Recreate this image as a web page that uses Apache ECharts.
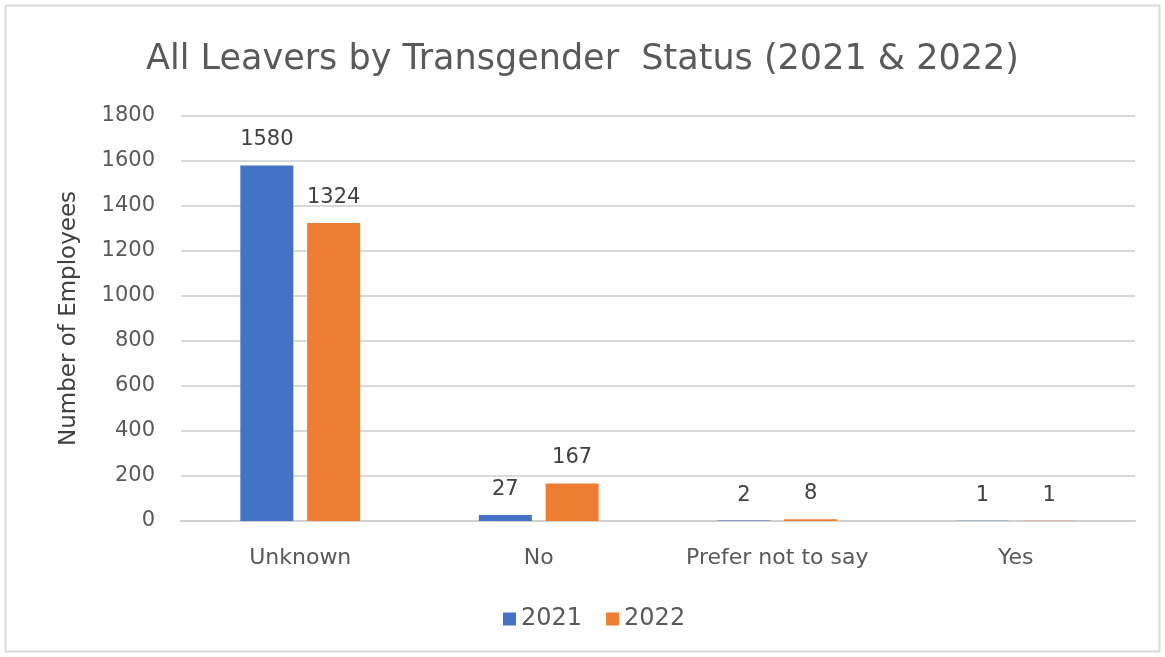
<!DOCTYPE html>
<html><head><meta charset="utf-8">
<script src="https://cdn.jsdelivr.net/npm/echarts@6/dist/echarts.min.js"></script>
<style>html,body{margin:0;padding:0;background:#fff}#c{width:1165px;height:657px}</style>
</head><body><div id="c"></div>
<script>
const categories = ['Unknown', 'No', 'Prefer not to say', 'Yes'];
const seriesNames = ['2021', '2022'];
const values2021 = [1580, 27, 2, 1];
const values2022 = [1324, 167, 8, 1];
const yTicks = [0, 200, 400, 600, 800, 1000, 1200, 1400, 1600, 1800];

const FONT = '"DejaVu Sans", "Open Sans", sans-serif';
const chart = echarts.init(document.getElementById('c'));
const labelStyle = {show: true, position: 'top', distance: 15, fontSize: 21, color: '#404040', fontFamily: FONT};
chart.setOption({
  animation: false,
  title: {text: 'All Leavers by Transgender  Status (2021 & 2022)', left: 'center', top: 37,
    textStyle: {fontSize: 35, fontWeight: 'normal', color: '#595959', fontFamily: FONT}},
  graphic: [{type: 'rect', shape: {x: 5.5, y: 5.5, width: 1154, height: 646},
    style: {fill: 'none', stroke: '#d9d9d9', lineWidth: 2}, silent: true}],
  legend: {data: seriesNames, bottom: 21, left: 498, itemWidth: 13, itemHeight: 13, itemGap: 24,
    icon: 'rect', textStyle: {fontSize: 24, color: '#595959', fontFamily: FONT}},
  grid: {left: 181, right: 30, top: 116, bottom: 136, containLabel: false},
  xAxis: {type: 'category', data: categories,
    axisLine: {show: true, lineStyle: {color: '#d0d0d0', width: 2}}, axisTick: {show: false},
    axisLabel: {fontSize: 22, color: '#595959', margin: 26, fontFamily: FONT}},
  yAxis: {type: 'value', min: yTicks[0], max: yTicks[yTicks.length - 1], interval: 200,
    name: 'Number of Employees', nameLocation: 'middle', nameGap: 100, nameRotate: 90,
    nameTextStyle: {fontSize: 23, color: '#404040', fontFamily: FONT},
    axisLine: {show: false}, axisTick: {show: false},
    splitLine: {lineStyle: {color: '#d9d9d9', width: 2}},
    axisLabel: {fontSize: 21, color: '#595959', margin: 26, fontFamily: FONT,
      formatter: function (v) { return String(v); }}},
  series: [
    {name: seriesNames[0], type: 'bar', data: values2021, barWidth: 53, barGap: '26%',
      itemStyle: {color: '#4472c4'}, label: labelStyle},
    {name: seriesNames[1], type: 'bar', data: values2022, barWidth: 53,
      itemStyle: {color: '#ed7d31'}, label: labelStyle}
  ]
});
</script></body></html>
